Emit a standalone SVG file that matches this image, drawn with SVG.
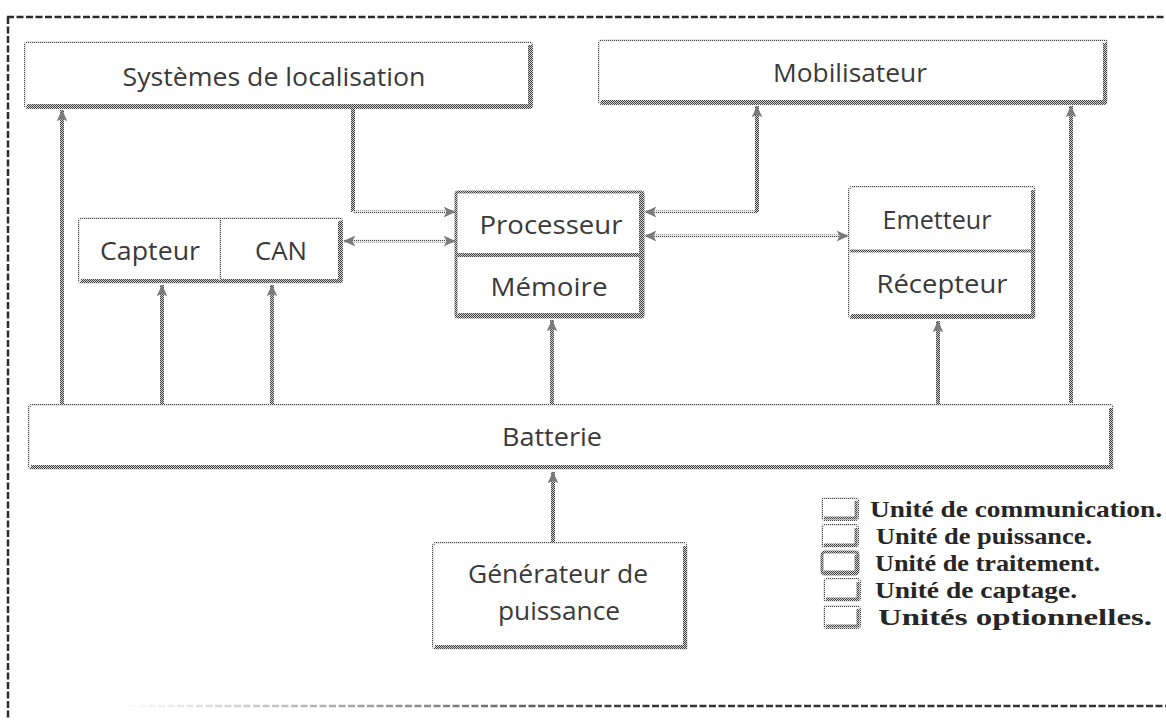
<svg xmlns="http://www.w3.org/2000/svg" width="1166" height="721" viewBox="0 0 1166 721">
  <defs>
    <!-- halftone fills used for the grainy outlines -->
    <pattern id="dk" width="2" height="2" patternUnits="userSpaceOnUse">
      <rect width="2" height="2" fill="#d2d2d2"/>
      <rect width="1" height="1" fill="#404040"/>
      <rect x="1" y="1" width="1" height="1" fill="#404040"/>
    </pattern>
    <pattern id="lt" width="2" height="2" patternUnits="userSpaceOnUse">
      <rect width="2" height="2" fill="#e6e6e6"/>
      <rect width="1" height="1" fill="#404040"/>
    </pattern>
    <marker id="ah" viewBox="0 0 10 10" refX="9.5" refY="5" markerWidth="12" markerHeight="12" markerUnits="userSpaceOnUse" orient="auto-start-reverse">
      <path d="M0,0.5 L10,5 L0,9.5 L2.5,5 z" fill="#7a7a7a"/>
    </marker>
    <linearGradient id="fadeB" gradientUnits="userSpaceOnUse" x1="120" y1="0" x2="650" y2="0">
      <stop offset="0" stop-color="#333" stop-opacity="0"/>
      <stop offset="1" stop-color="#333" stop-opacity="1"/>
    </linearGradient>
    <style>
      .frame { fill: none; stroke: #2b2b2b; stroke-width: 2.5; stroke-dasharray: 7 2.5; }
      .box { fill: #fff; stroke: url(#lt); stroke-width: 2; }
      .shade { fill: none; stroke: url(#dk); stroke-width: 4; }
      .heavy { fill: #fff; stroke: url(#dk); stroke-width: 3; }
      .div { fill: none; stroke: url(#lt); stroke-width: 2; }
      .lbl { font-family: "Open Sans", "Noto Sans", sans-serif; font-size: 26px; fill: #3a3a3a; text-anchor: middle; }
      .leg { font-family: "Liberation Serif", "Times New Roman", serif; font-weight: bold; font-size: 24px; fill: #262626; }
      .cv { fill: none; stroke: url(#dk); stroke-width: 4; }
      .ch { fill: none; stroke: url(#lt); stroke-width: 3; }
    </style>
  </defs>

  <rect width="1166" height="721" fill="#fff"/>

  <!-- outer dashed frame -->
  <g id="frame">
    <path class="frame" d="M7,17 H1166"/>
    <path class="frame" d="M8,17 V719"/>
    <path class="frame" d="M120,706 H1166" style="stroke:url(#fadeB)"/>
  </g>

  <!-- connectors -->
  <g id="connectors">
    <path class="cv" d="M353,109 V212"/>
    <path class="ch" d="M353,212 H455" marker-end="url(#ah)"/>
    <path class="ch" d="M344,241 H455" marker-start="url(#ah)" marker-end="url(#ah)"/>
    <path class="ch" d="M757,212 H645" marker-end="url(#ah)"/>
    <path class="cv" d="M757,212 V106" marker-end="url(#ah)"/>
    <path class="ch" d="M645,236 H848" marker-start="url(#ah)" marker-end="url(#ah)"/>
    <path class="cv" d="M62,406 V110" marker-end="url(#ah)"/>
    <path class="cv" d="M162,406 V285" marker-end="url(#ah)"/>
    <path class="cv" d="M272,406 V285" marker-end="url(#ah)"/>
    <path class="cv" d="M552,405 V320" marker-end="url(#ah)"/>
    <path class="cv" d="M938,404 V321" marker-end="url(#ah)"/>
    <path class="cv" d="M1071,403 V106" marker-end="url(#ah)"/>
    <path class="cv" d="M553,543 V472" marker-end="url(#ah)"/>
  </g>

  <g id="n-localisation">
    <rect class="box" x="25" y="42" width="507" height="66" rx="3"/>
    <path class="shade" d="M27,106 H530 V45"/>
    <text class="lbl" x="274" y="86" textLength="303" lengthAdjust="spacingAndGlyphs">Systèmes de localisation</text>
  </g>

  <g id="n-mobilisateur">
    <rect class="box" x="599" y="40" width="508" height="64" rx="3"/>
    <path class="shade" d="M601,102 H1105 V43"/>
    <text class="lbl" x="850" y="82" textLength="154" lengthAdjust="spacingAndGlyphs">Mobilisateur</text>
  </g>

  <g id="n-processeur">
    <rect class="heavy" x="456" y="192" width="187" height="125" rx="2"/>
    <path class="shade" d="M458,315 H641 V194"/>
    <path class="shade" d="M457,255 H642"/>
    <text class="lbl" x="551" y="234" textLength="143" lengthAdjust="spacingAndGlyphs">Processeur</text>
    <text class="lbl" x="549" y="296" textLength="117" lengthAdjust="spacingAndGlyphs">Mémoire</text>
  </g>

  <g id="n-capteur">
    <rect class="box" x="79" y="218" width="263" height="65" rx="3"/>
    <path class="shade" d="M81,281 H340 V221"/>
    <path class="div" d="M220,219 V281"/>
    <text class="lbl" x="150" y="260" textLength="100" lengthAdjust="spacingAndGlyphs">Capteur</text>
    <text class="lbl" x="281" y="260" textLength="52" lengthAdjust="spacingAndGlyphs">CAN</text>
  </g>

  <g id="n-emetteur">
    <rect class="box" x="849" y="187" width="186" height="131" rx="3"/>
    <path class="shade" d="M851,316 H1033 V190"/>
    <path class="shade" d="M850,251 H1034" style="stroke-width:3"/>
    <text class="lbl" x="937" y="229" textLength="109" lengthAdjust="spacingAndGlyphs">Emetteur</text>
    <text class="lbl" x="942" y="293" textLength="131" lengthAdjust="spacingAndGlyphs">Récepteur</text>
  </g>

  <g id="n-batterie">
    <rect class="box" x="29" y="405" width="1084" height="64" rx="3"/>
    <path class="shade" d="M31,467 H1111 V408"/>
    <text class="lbl" x="552" y="446" textLength="100" lengthAdjust="spacingAndGlyphs">Batterie</text>
  </g>

  <g id="n-generateur">
    <rect class="box" x="433" y="543" width="254" height="106" rx="3"/>
    <path class="shade" d="M435,647 H685 V546"/>
    <text class="lbl" x="558" y="583" textLength="180" lengthAdjust="spacingAndGlyphs">Générateur de</text>
    <text class="lbl" x="559" y="620" textLength="122" lengthAdjust="spacingAndGlyphs">puissance</text>
  </g>

  <!-- key -->
  <g id="legend">
    <rect class="box" x="822" y="498" width="36" height="22" rx="3"/>
    <path class="shade" d="M824,518 H856 V501" style="stroke-width:3"/>
    <rect class="box" x="822" y="525" width="36" height="22" rx="3"/>
    <path class="shade" d="M824,545 H856 V528" style="stroke-width:3"/>
    <rect class="heavy" x="822" y="552" width="36" height="22" rx="3"/>
    <path class="shade" d="M824,572 H856 V555" style="stroke-width:3"/>
    <rect class="box" x="824" y="579" width="36" height="22" rx="3"/>
    <path class="shade" d="M826,599 H858 V582" style="stroke-width:3"/>
    <rect class="box" x="824" y="606" width="36" height="22" rx="3"/>
    <path class="shade" d="M826,626 H858 V609" style="stroke-width:3"/>
    <text class="leg" x="870" y="517" textLength="292" lengthAdjust="spacingAndGlyphs">Unité de communication.</text>
    <text class="leg" x="876" y="544" textLength="216" lengthAdjust="spacingAndGlyphs">Unité de puissance.</text>
    <text class="leg" x="875" y="571" textLength="225" lengthAdjust="spacingAndGlyphs">Unité de traitement.</text>
    <text class="leg" x="875" y="598" textLength="202" lengthAdjust="spacingAndGlyphs">Unité de captage.</text>
    <text class="leg" x="878" y="625" textLength="274" lengthAdjust="spacingAndGlyphs">Unités optionnelles.</text>
  </g>
</svg>
